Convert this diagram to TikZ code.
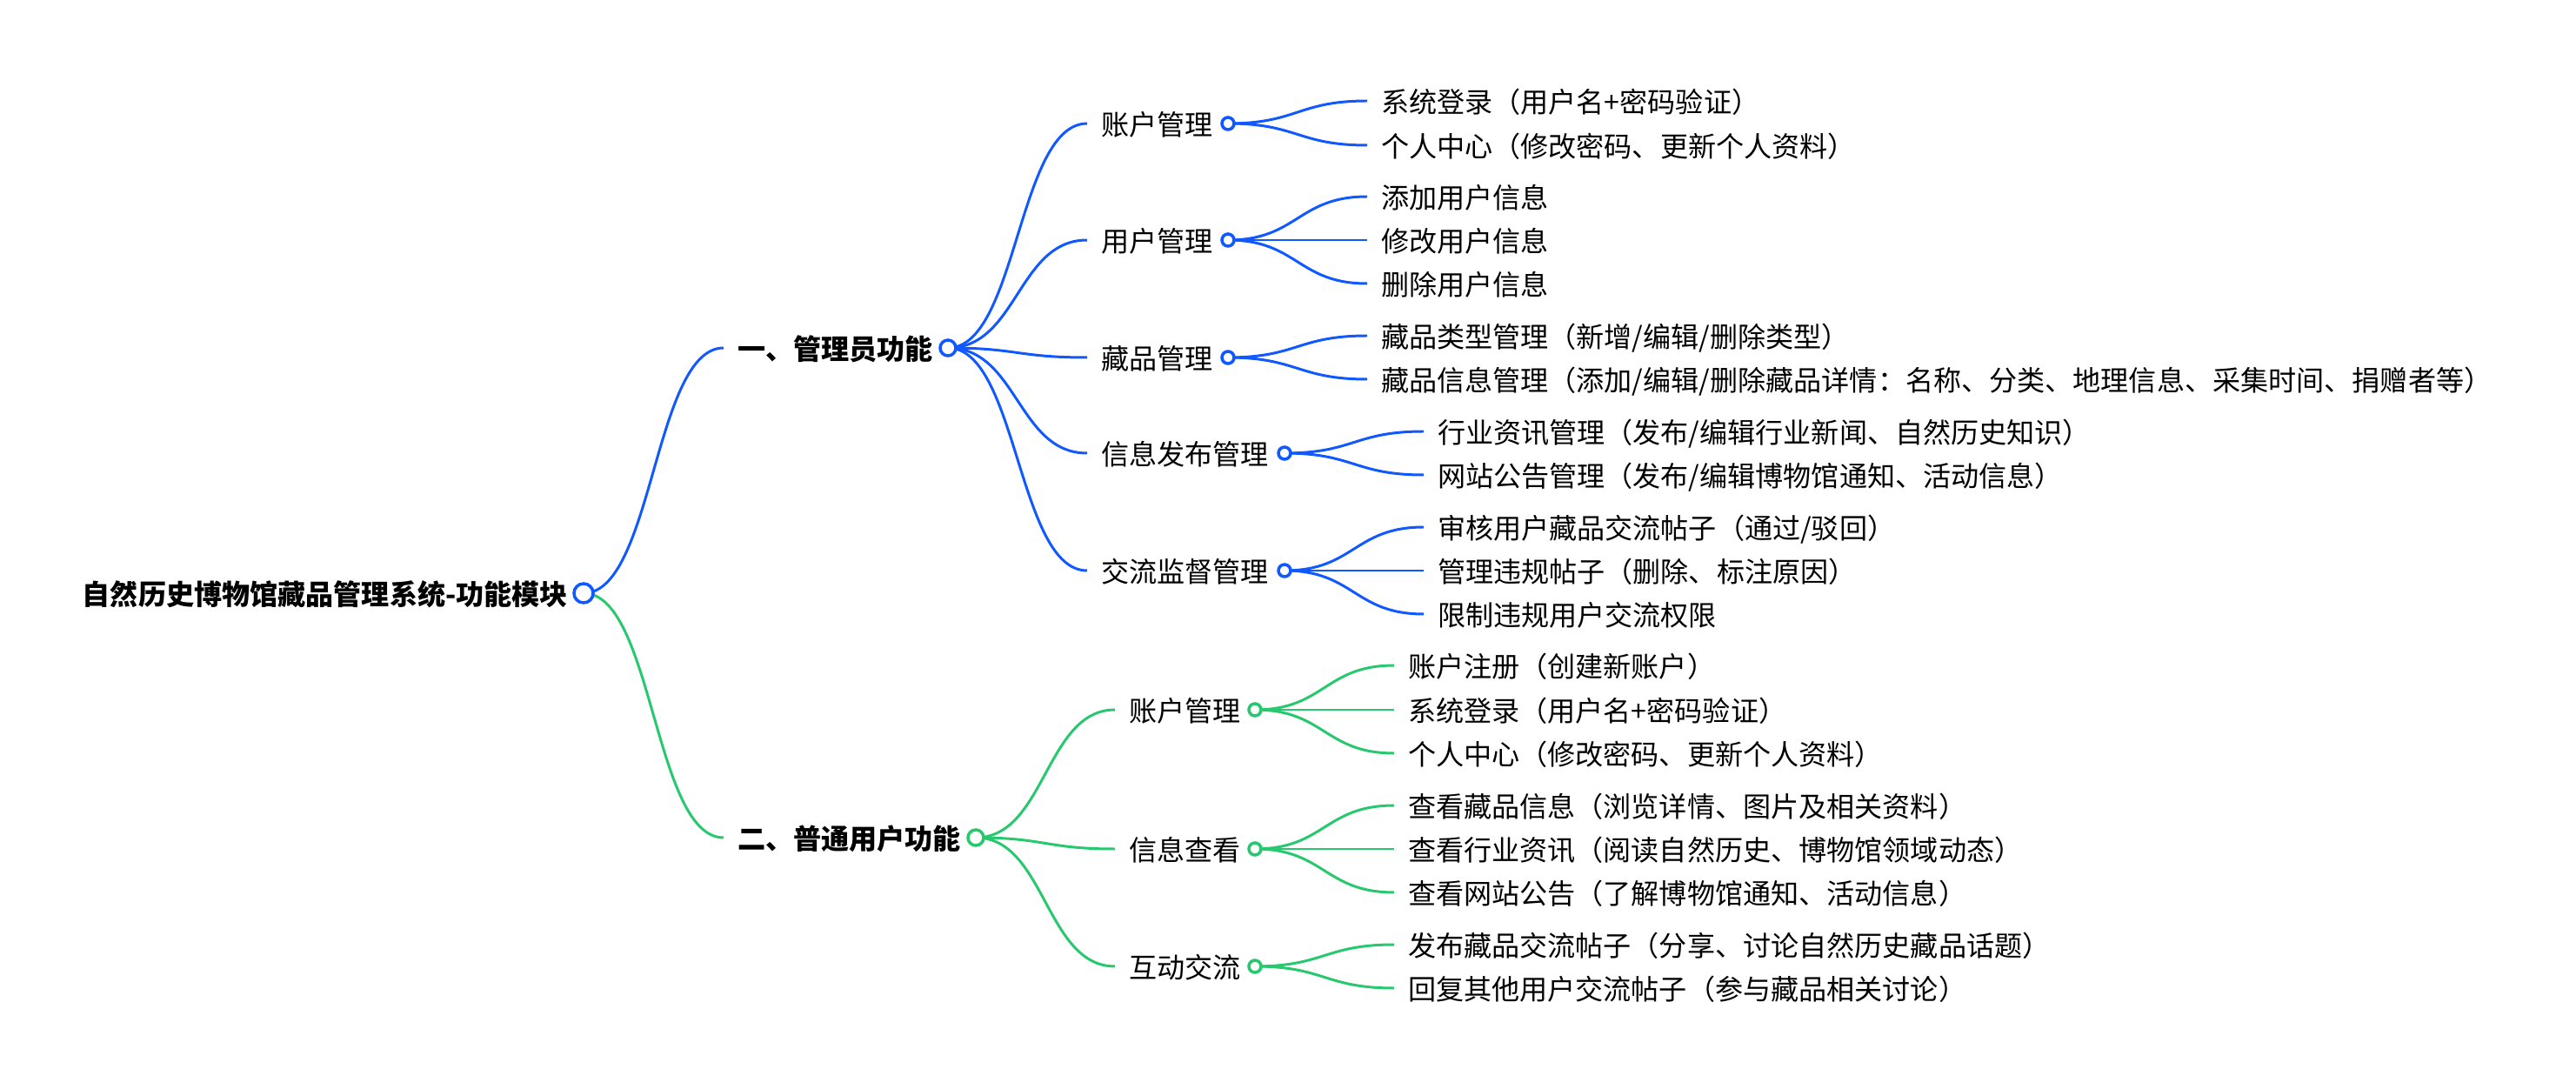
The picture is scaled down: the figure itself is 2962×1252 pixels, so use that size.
\documentclass[tikz,border=0pt]{standalone}
\usepackage{fontspec}
\setmainfont{Noto Sans CJK SC}
\usetikzlibrary{backgrounds}
\definecolor{cb}{RGB}{16,88,255}
\definecolor{cg}{RGB}{40,200,110}
\newcommand{\fsz}{\fontsize{9.13pt}{10pt}\selectfont}
\begin{document}
\begin{tikzpicture}[x=0.01cm,y=-0.01cm,
  txt/.style={inner sep=0pt, outer xsep=0.16cm, outer ysep=0pt, anchor=west, font=\fsz, text height=0.76em, text depth=0pt},
  btxt/.style={txt, font=\fsz\bfseries},
  rtxt/.style={inner sep=0pt, outer sep=0pt, anchor=east, font=\fsz\bfseries, text height=0.76em, text depth=0pt},
  dot/.style={circle, draw=#1, fill=white, line width=1pt, inner sep=0pt, minimum size=0.14cm},
  lk/.style={line width=0.85pt, draw=#1}
]
\useasboundingbox (0,0) rectangle (2962,1252);

% root
\node[rtxt] (rt) at (653,682) {自然历史博物馆藏品管理系统-功能模块};
\node[dot=cb, minimum size=0.22cm] (r) at (671,682) {};

% level 1
\node[btxt] (at) at (832,400) {一、管理员功能};
\node[dot=cb, minimum size=0.18cm] (a) at (1090,400) {};
\node[btxt] (ut) at (832,963) {二、普通用户功能};
\node[dot=cg, minimum size=0.18cm] (u) at (1122,963) {};

% admin level 2
\node[txt] (a1t) at (1250,142) {账户管理};     \node[dot=cb] (a1) at (1412,142) {};
\node[txt] (a2t) at (1250,276) {用户管理};     \node[dot=cb] (a2) at (1412,276) {};
\node[txt] (a3t) at (1250,411) {藏品管理};     \node[dot=cb] (a3) at (1412,411) {};
\node[txt] (a4t) at (1250,521) {信息发布管理}; \node[dot=cb] (a4) at (1477,521) {};
\node[txt] (a5t) at (1250,656) {交流监督管理}; \node[dot=cb] (a5) at (1477,656) {};

% admin leaves
\node[txt] (l11) at (1572,116) {系统登录（用户名+密码验证）};
\node[txt] (l12) at (1572,167) {个人中心（修改密码、更新个人资料）};
\node[txt] (l21) at (1572,226) {添加用户信息};
\node[txt] (l22) at (1572,276) {修改用户信息};
\node[txt] (l23) at (1572,326) {删除用户信息};
\node[txt] (l31) at (1572,386) {藏品类型管理（新增/编辑/删除类型）};
\node[txt] (l32) at (1572,436) {藏品信息管理（添加/编辑/删除藏品详情：名称、分类、地理信息、采集时间、捐赠者等）};
\node[txt] (l41) at (1637,496) {行业资讯管理（发布/编辑行业新闻、自然历史知识）};
\node[txt] (l42) at (1637,546) {网站公告管理（发布/编辑博物馆通知、活动信息）};
\node[txt] (l51) at (1637,606) {审核用户藏品交流帖子（通过/驳回）};
\node[txt] (l52) at (1637,656) {管理违规帖子（删除、标注原因）};
\node[txt] (l53) at (1637,706) {限制违规用户交流权限};

% user level 2
\node[txt] (u1t) at (1282,816) {账户管理};  \node[dot=cg] (u1) at (1443,816) {};
\node[txt] (u2t) at (1282,976) {信息查看};  \node[dot=cg] (u2) at (1443,976) {};
\node[txt] (u3t) at (1282,1111) {互动交流}; \node[dot=cg] (u3) at (1443,1111) {};

% user leaves
\node[txt] (m11) at (1603,765) {账户注册（创建新账户）};
\node[txt] (m12) at (1603,816) {系统登录（用户名+密码验证）};
\node[txt] (m13) at (1603,866) {个人中心（修改密码、更新个人资料）};
\node[txt] (m21) at (1603,926) {查看藏品信息（浏览详情、图片及相关资料）};
\node[txt] (m22) at (1603,976) {查看行业资讯（阅读自然历史、博物馆领域动态）};
\node[txt] (m23) at (1603,1026) {查看网站公告（了解博物馆通知、活动信息）};
\node[txt] (m31) at (1603,1086) {发布藏品交流帖子（分享、讨论自然历史藏品话题）};
\node[txt] (m32) at (1603,1136) {回复其他用户交流帖子（参与藏品相关讨论）};

\begin{scope}[on background layer]
\foreach \p/\c/\col in {r/at/cb, r/ut/cg,
  a/a1t/cb, a/a2t/cb, a/a3t/cb, a/a4t/cb, a/a5t/cb,
  a1/l11/cb, a1/l12/cb, a2/l21/cb, a2/l22/cb, a2/l23/cb,
  a3/l31/cb, a3/l32/cb, a4/l41/cb, a4/l42/cb,
  a5/l51/cb, a5/l52/cb, a5/l53/cb,
  u/u1t/cg, u/u2t/cg, u/u3t/cg,
  u1/m11/cg, u1/m12/cg, u1/m13/cg,
  u2/m21/cg, u2/m22/cg, u2/m23/cg,
  u3/m31/cg, u3/m32/cg}
  \draw[lk=\col] (\p.center) .. controls +(80,0) and +(-80,0) .. (\c.west);
\end{scope}
\end{tikzpicture}
\end{document}
